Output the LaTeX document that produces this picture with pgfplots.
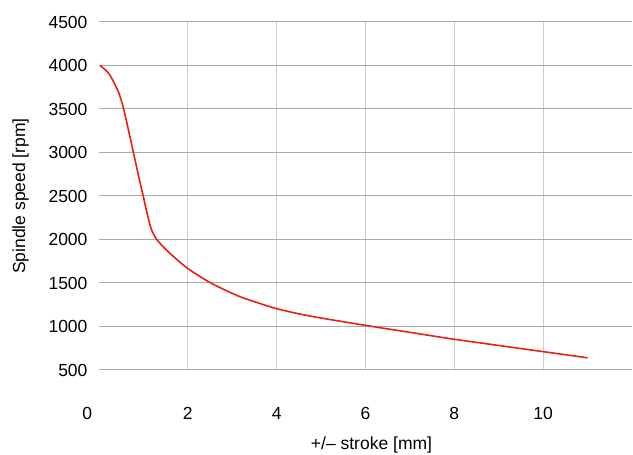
\documentclass[border=0pt]{standalone}
\usepackage{pgfplots}
\pgfplotsset{compat=1.18}
\usepackage{fontspec}
\setmainfont{Liberation Sans}
\definecolor{curvered}{RGB}{232,32,18}
\definecolor{hgrid}{RGB}{170,170,170}
\definecolor{vgrid}{RGB}{205,205,205}
\begin{document}
\begin{tikzpicture}
\useasboundingbox (0,0) rectangle (633pt,455pt);
\begin{axis}[
  at={(99pt,85pt)}, anchor=south west,
  scale only axis,
  width=533pt, height=348pt,
  xmin=0, xmax=12, ymin=500, ymax=4500,
  axis line style={draw=none},
  major tick length=0pt,
  xtick={2,4,6,8,10},
  extra x ticks={0},
  extra x tick labels={\hbox to 0pt{\hss 0\kern7pt}},
  extra x tick style={xmajorgrids=false},
  ytick={500,1000,...,4500},
  xmajorgrids, ymajorgrids,
  x grid style={vgrid, line width=1pt},
  y grid style={hgrid, line width=1pt},
  /pgf/number format/assume math mode=true,
  /pgf/number format/1000 sep={},
  ticklabel style={font=\fontsize{17.5}{20}\selectfont},
  xticklabel style={yshift=-34pt},
  yticklabel style={xshift=-8pt},
  label style={font=\fontsize{17.5}{20}\selectfont},
  xlabel={+/– stroke [mm]},
  ylabel={Spindle speed [rpm]},
  xlabel style={yshift=-10pt, xshift=6pt},
  ylabel style={yshift=13pt},
]
\addplot[curvered, line width=1.6pt, smooth, tension=0.5] coordinates {
(0.02,4000) (0.135,3955) (0.25,3885) (0.435,3700) (0.55,3510) (0.66,3265) (0.77,3010) (0.885,2745) (1.0,2490) (1.05,2375) (1.1,2265) (1.15,2165) (1.2,2090) (1.3,2000) (1.42,1930) (1.56,1858) (1.75,1772) (2,1667) (2.5,1505) (3.1,1358) (3.5,1285) (4,1205) (4.75,1120) (6,1013) (7,933) (8,853) (9,782) (10,711) (11,640)
};
\end{axis}
\end{tikzpicture}
\end{document}
